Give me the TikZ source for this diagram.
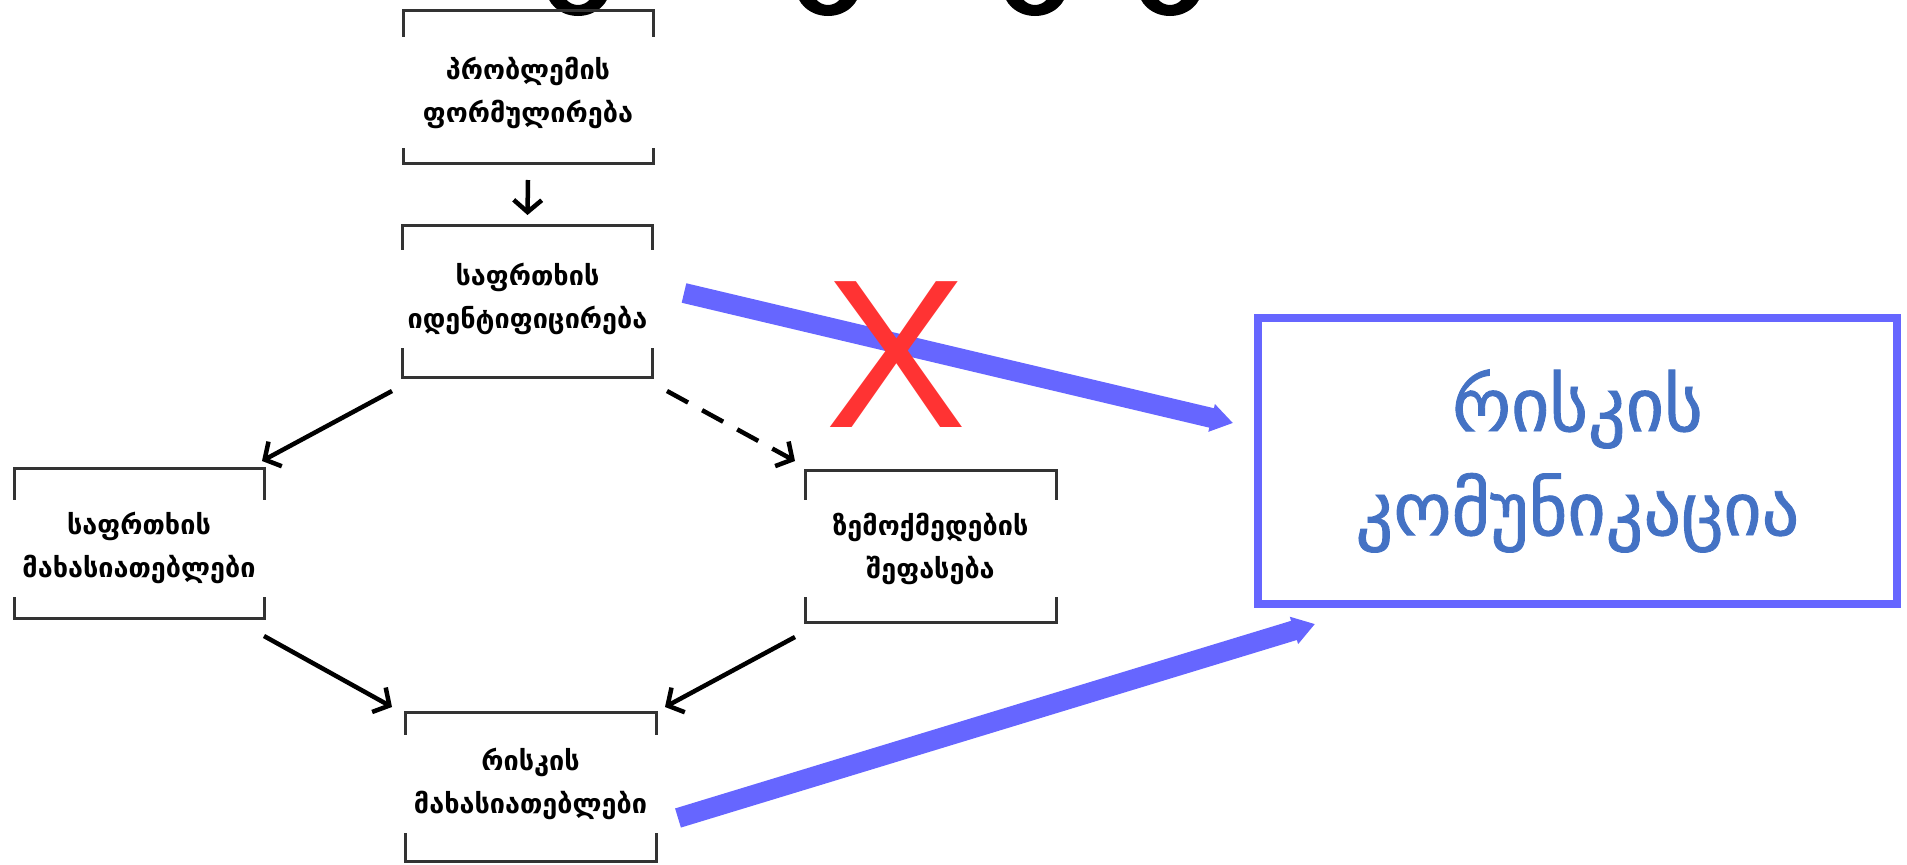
\documentclass[tikz,border=0pt]{standalone}
\usepackage{fontspec}
\setmainfont{DejaVu Sans}
\newfontfamily\crossfont{Liberation Sans}
\newfontfamily\commfont[FakeBold=1.2]{DejaVu Sans}
\usetikzlibrary{arrows.meta,calc}
\definecolor{linkblue}{HTML}{6666FF}
\definecolor{textblue}{HTML}{4472C4}
\definecolor{crossred}{HTML}{FF3333}
\definecolor{framegray}{HTML}{333333}
\begin{document}
\begin{tikzpicture}[x=1pt,y=-1pt,
    stageframe/.style={draw=framegray,line width=3pt,minimum width=250pt,inner sep=0pt,outer sep=0pt},
    stagetext/.style={fill=white,minimum width=272pt,align=center,inner sep=0pt,
      font=\fontsize{27}{43}\selectfont\bfseries},
    flow/.style={line width=4.5pt,-{Straight Barb[length=12pt,width=28pt]}},
    commlink/.style={draw=linkblue,line width=20pt,-{Triangle[length=22pt,width=27pt]}}]
  \useasboundingbox (0,0) rectangle (1907,865);
  % bottoms of the cut-off title letters
  \begin{scope}
    \clip (0,0) rectangle (1907,865);
    \foreach \cx in {578,828,1035,1170}
      \fill[even odd rule] (\cx,-12) ellipse [x radius=32,y radius=28]
        (\cx,-12) ellipse [x radius=16,y radius=17];
  \end{scope}
  % stages
  \node[stageframe,minimum height=153pt] (prob) at (528,86.5) {};
  \node[stagetext,minimum height=111pt] (probtext) at ($(prob.center)+(0,6)$) {პრობლემის\\ფორმულირება};
  \node[stageframe,minimum height=152pt] (haz) at (527.5,301) {};
  \node[stagetext,minimum height=98pt] (haztext) at ($(haz.center)+(0,-2)$) {საფრთხის\\იდენტიფიცირება};
  \node[stageframe,minimum height=150pt] (hchar) at (139,543) {};
  \node[stagetext,minimum height=97pt] (hchartext) at ($(hchar.center)+(0,5)$) {საფრთხის\\მახასიათებლები};
  \node[stageframe,minimum width=251pt,minimum height=152pt] (expo) at (930.5,546) {};
  \node[stagetext,minimum height=97pt] (expotext) at ($(expo.center)+(0,2.5)$) {ზემოქმედების\\შეფასება};
  \node[stageframe,minimum width=251pt,minimum height=149pt] (risk) at (530.5,786.5) {};
  \node[stagetext,minimum height=98pt] (risktext) at ($(risk.center)+(0,-2.5)$) {რისკის\\მახასიათებლები};
  \node[draw=linkblue,line width=8pt,minimum width=639pt,minimum height=286pt,outer sep=0pt,
    text=textblue,align=center,font=\commfont\fontsize{74}{104}\selectfont] (comm) at (1577.5,461) {რისკის\\კომუნიკაცია};
  % flow of the assessment
  \draw[flow] ($(prob.south)+(0,17)$) -- ($(haz.north)+(0,-10)$);
  \draw[flow] ($(haz.south west)+(-10.5,14)$) -- ($(hchar.north east)+(-2,-7)$);
  \draw[flow,dash pattern=on 24pt off 16pt] ($(haz.south east)+(14.5,14)$) -- ($(expo.north west)+(-10,-9)$);
  \draw[flow] ($(hchar.south east)+(0,18)$) -- ($(risk.north west)+(-13,-5)$);
  \draw[flow] ($(expo.south west)+(-10,15)$) -- ($(risk.north east)+(9,-5)$);
  % links to communication
  \draw[commlink] ($(haz.east)+(31.5,-8)$) -- ($(comm.west)+(-25,-38)$);
  \draw[commlink] ($(risk.east)+(22,31.5)$) -- ($(comm.south west)+(57,20)$);
  \node[text=crossred,font=\crossfont\fontsize{212}{212}\selectfont,inner sep=0pt,anchor=base] (cross) at (896,427) {X};
\end{tikzpicture}
\end{document}
